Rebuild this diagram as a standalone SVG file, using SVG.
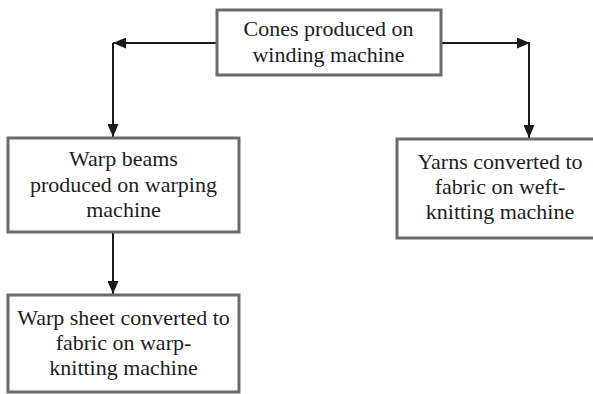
<svg xmlns="http://www.w3.org/2000/svg" width="593" height="394" viewBox="0 0 593 394">
<style>
.box{fill:#fff;stroke:#6b6b6b;stroke-width:3}
.lbl{font-family:"Liberation Serif","Times New Roman",serif;font-size:22px;fill:#1e1e1e;text-anchor:middle}
.con{fill:none;stroke:#1a1a1a;stroke-width:2}
</style>
<defs>
<marker id="ah" viewBox="0 0 13 11" refX="13" refY="5.5" markerWidth="13" markerHeight="11" markerUnits="userSpaceOnUse" orient="auto">
<path d="M0,0 L13,5.5 L0,11 z" fill="#1a1a1a"/>
</marker>
</defs>
<rect width="593" height="394" fill="#fff"/>
<g id="connectors">
<path class="con" d="M216,43 L113,43" marker-end="url(#ah)"/>
<path class="con" d="M113,43 L113,137" marker-end="url(#ah)"/>
<path class="con" d="M441,43 L530,43" marker-end="url(#ah)"/>
<path class="con" d="M529,43 L529,138" marker-end="url(#ah)"/>
<path class="con" d="M113,232 L113,294" marker-end="url(#ah)"/>
</g>
<g id="cones">
<rect class="box" x="217" y="10" width="224" height="65"/>
<text class="lbl" x="328.5" y="36">Cones produced on</text>
<text class="lbl" x="328.5" y="62">winding machine</text>
</g>
<g id="warp-beams">
<rect class="box" x="8" y="138" width="231" height="94"/>
<text class="lbl" x="123.5" y="166">Warp beams</text>
<text class="lbl" x="123.5" y="192">produced on warping</text>
<text class="lbl" x="123.5" y="217">machine</text>
</g>
<g id="warp-knitting">
<rect class="box" x="8" y="295" width="231" height="97"/>
<text class="lbl" x="123.5" y="325">Warp sheet converted to</text>
<text class="lbl" x="123.5" y="350">fabric on warp-</text>
<text class="lbl" x="123.5" y="375">knitting machine</text>
</g>
<g id="weft-knitting">
<rect class="box" x="397" y="139" width="206" height="99"/>
<text class="lbl" x="500" y="169">Yarns converted to</text>
<text class="lbl" x="500" y="194">fabric on weft-</text>
<text class="lbl" x="500" y="219">knitting machine</text>
</g>
</svg>
